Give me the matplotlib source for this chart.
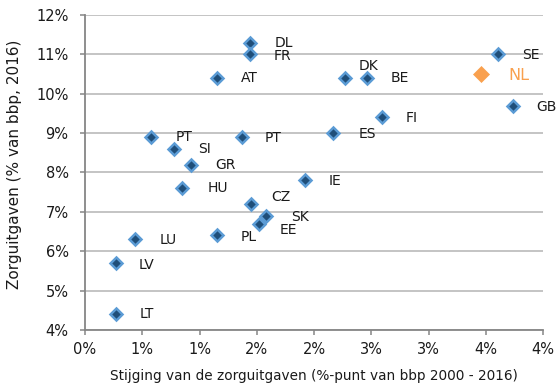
import matplotlib
matplotlib.use("Agg")
import matplotlib.pyplot as plt
from matplotlib.ticker import FixedLocator, FuncFormatter
import math

countries = ["DL", "FR", "AT", "PT", "SI", "GR", "PT", "HU", "IE", "SE", "DK", "BE",
             "GB", "FI", "ES", "CZ", "SK", "EE", "PL", "LU", "LV", "LT"]
stijging = [1.44, 1.44, 1.15, 0.58, 0.78, 0.93, 1.37, 0.85, 1.92, 3.61, 2.27, 2.46,
            3.74, 2.59, 2.17, 1.45, 1.58, 1.52, 1.15, 0.44, 0.27, 0.27]
zorg = [11.3, 11.0, 10.4, 8.9, 8.6, 8.2, 8.9, 7.6, 7.8, 11.0, 10.4, 10.4,
        9.7, 9.4, 9.0, 7.2, 6.9, 6.7, 6.4, 6.3, 5.7, 4.4]
nl_label = "NL"
nl_x = [3.46]
nl_y = [10.5]

x_ticks = [0, 0.5, 1.0, 1.5, 2.0, 2.5, 3.0, 3.5, 4.0]
y_ticks = [4, 5, 6, 7, 8, 9, 10, 11, 12]

# label offsets in pixels (dx, dy down positive)
offsets = {
    0: (25, 0), 1: (24, 2), 2: (24, 0), 3: (24, 0), 4: (24, 0), 5: (24, 0),
    6: (23, 1), 7: (25, 0), 8: (24, 1), 9: (24, 1), 10: (14, -12), 11: (24, 0),
    12: (23, 1), 13: (24, 1), 14: (25, 1), 15: (20, -7), 16: (25, 1), 17: (21, 6),
    18: (24, 2), 19: (24, 1), 20: (23, 2), 21: (24, 0),
}

plt.rcParams['font.family'] = ['DejaVu Sans']
fig = plt.figure(figsize=(5.58, 3.85), dpi=100)
ax = fig.add_axes([85/558, 55/385, (543-85)/558, (330-15)/385])

gray = '#868686'
ax.set_xlim(0, 4)
ax.set_ylim(4, 12)
ax.xaxis.set_major_locator(FixedLocator(x_ticks))
ax.yaxis.set_major_locator(FixedLocator(y_ticks))
ax.xaxis.set_major_formatter(FuncFormatter(lambda v, p: f"{int(math.floor(v + 0.5))}%"))
ax.yaxis.set_major_formatter(FuncFormatter(lambda v, p: f"{int(round(v))}%"))
ax.grid(axis='y', color='#bfbfbf', linewidth=1.3, zorder=0)
ax.set_axisbelow(True)
for s in ['top', 'right']:
    ax.spines[s].set_visible(False)
for s in ['left', 'bottom']:
    ax.spines[s].set_color(gray)
    ax.spines[s].set_linewidth(1.3)
ax.tick_params(axis='both', direction='out', length=3.8, width=1.1, color=gray,
               labelsize=10.5, labelcolor='#1a1a1a')
ax.tick_params(axis='y', pad=8)
ax.tick_params(axis='x', pad=5)

ax.plot(stijging, zorg, linestyle='none', marker='D', markersize=6.3,
        markerfacecolor='#1f4e79', markeredgecolor='#5b9bd5', markeredgewidth=1.8,
        zorder=3, clip_on=False)
ax.plot(nl_x, nl_y, linestyle='none', marker='D', markersize=8.5,
        markerfacecolor='#f9a04e', markeredgecolor='#f9a04e', markeredgewidth=0.5,
        zorder=3)

k = 0.72
for i, (c, x, y) in enumerate(zip(countries, stijging, zorg)):
    dx, dy = offsets[i]
    ax.annotate(c, (x, y), xytext=(dx * k, -dy * k), textcoords='offset points',
                ha='left', va='center', fontsize=10, color='#1a1a1a')
ax.annotate(nl_label, (nl_x[0], nl_y[0]), xytext=(27 * k, -1 * k), textcoords='offset points',
            ha='left', va='center', fontsize=11.5, color='#f9a04e')

ax.set_xlabel("Stijging van de zorguitgaven (%-punt van bbp 2000 - 2016)", fontsize=9.8,
              color='#1a1a1a')
ax.xaxis.set_label_coords(0.5, -(369 - 330) / 315, transform=ax.transAxes)
ax.set_ylabel("Zorguitgaven (% van bbp, 2016)", fontsize=11, color='#1a1a1a')
ax.yaxis.set_label_coords(-(85 - 22) / 458, 0.5 + 8 / 315, transform=ax.transAxes)

fig.savefig("out.png", dpi=100)
